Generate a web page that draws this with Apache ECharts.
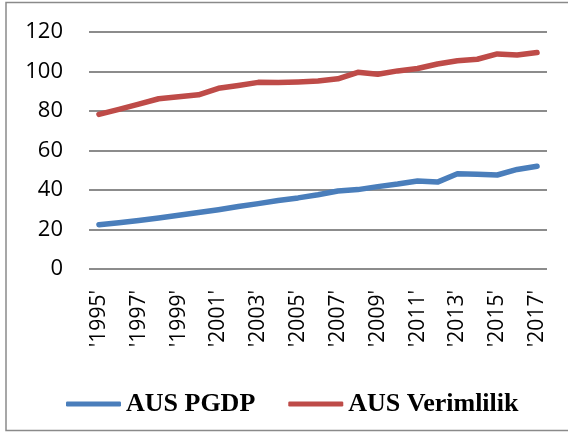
<!DOCTYPE html>
<html>
<head>
<meta charset="utf-8">
<script src="https://cdn.jsdelivr.net/npm/echarts@6/dist/echarts.min.js"></script>
<style>
  html, body { margin: 0; padding: 0; background: #ffffff; }
  #chart { width: 568px; height: 434px; }
</style>
</head>
<body>
<div id="chart"></div>
<script>
// Year labels (quoted, as stored in the source table)
const years = ["'1995'", "'1996'", "'1997'", "'1998'", "'1999'", "'2000'", "'2001'", "'2002'",
  "'2003'", "'2004'", "'2005'", "'2006'", "'2007'", "'2008'", "'2009'", "'2010'",
  "'2011'", "'2012'", "'2013'", "'2014'", "'2015'", "'2016'", "'2017'"];

// Australia: per-capita GDP index
const ausPGDP = [22.4, 23.4, 24.6, 25.8, 27.2, 28.6, 30.0, 31.6, 33.1, 34.7, 36.0, 37.6,
  39.5, 40.2, 41.7, 43.0, 44.6, 44.0, 48.2, 48.0, 47.6, 50.4, 52.0];

// Australia: productivity index
const ausVerimlilik = [78.3, 80.8, 83.5, 86.2, 87.2, 88.2, 91.5, 92.9, 94.5, 94.4, 94.7, 95.2,
  96.3, 99.6, 98.6, 100.3, 101.5, 103.8, 105.4, 106.2, 108.9, 108.4, 109.6];

// Value-axis ticks
const yMin = 0, yMax = 120, yStep = 20;

const seriesNames = ['AUS PGDP', 'AUS Verimlilik'];
const seriesColors = ['#4a7ebb', '#be4b48'];

const chart = echarts.init(document.getElementById('chart'), null, { renderer: 'canvas' });

const labelFont = '"Open Sans", "Liberation Sans", sans-serif';

chart.setOption({
  animation: false,
  backgroundColor: '#ffffff',
  graphic: [{
    type: 'rect',
    shape: { x: 6, y: 2.5, width: 600, height: 428 },
    style: { fill: 'none', stroke: '#8a8a8a', lineWidth: 1.5 },
    silent: true
  }],
  grid: { left: 89, top: 32, width: 458, height: 237, containLabel: false },
  legend: {
    data: seriesNames,
    left: 61,
    top: 386,
    itemWidth: 55,
    itemHeight: 5,
    itemGap: 33,
    icon: 'roundRect',
    textStyle: {
      fontFamily: '"Liberation Serif", "Times New Roman", serif',
      fontWeight: 'bold',
      fontSize: 26,
      color: '#000000'
    }
  },
  xAxis: {
    type: 'category',
    data: years,
    boundaryGap: true,
    axisLine: { show: false },
    axisTick: { show: false },
    axisLabel: {
      rotate: 90,
      interval: 1,
      margin: 21,
      fontFamily: labelFont,
      fontSize: 21,
      color: '#000000'
    }
  },
  yAxis: {
    type: 'value',
    min: yMin,
    max: yMax,
    interval: yStep,
    axisLine: { show: false },
    axisTick: { show: false },
    axisLabel: {
      margin: 26,
      fontFamily: labelFont,
      fontSize: 22,
      color: '#000000'
    },
    splitLine: { lineStyle: { color: '#8c8c8c', width: 2 } }
  },
  series: [
    {
      name: seriesNames[0],
      type: 'line',
      data: ausPGDP,
      symbol: 'none',
      color: seriesColors[0],
      lineStyle: { width: 5.5, cap: 'round', join: 'round', color: seriesColors[0] }
    },
    {
      name: seriesNames[1],
      type: 'line',
      data: ausVerimlilik,
      symbol: 'none',
      color: seriesColors[1],
      lineStyle: { width: 5.5, cap: 'round', join: 'round', color: seriesColors[1] }
    }
  ]
});
</script>
</body>
</html>
